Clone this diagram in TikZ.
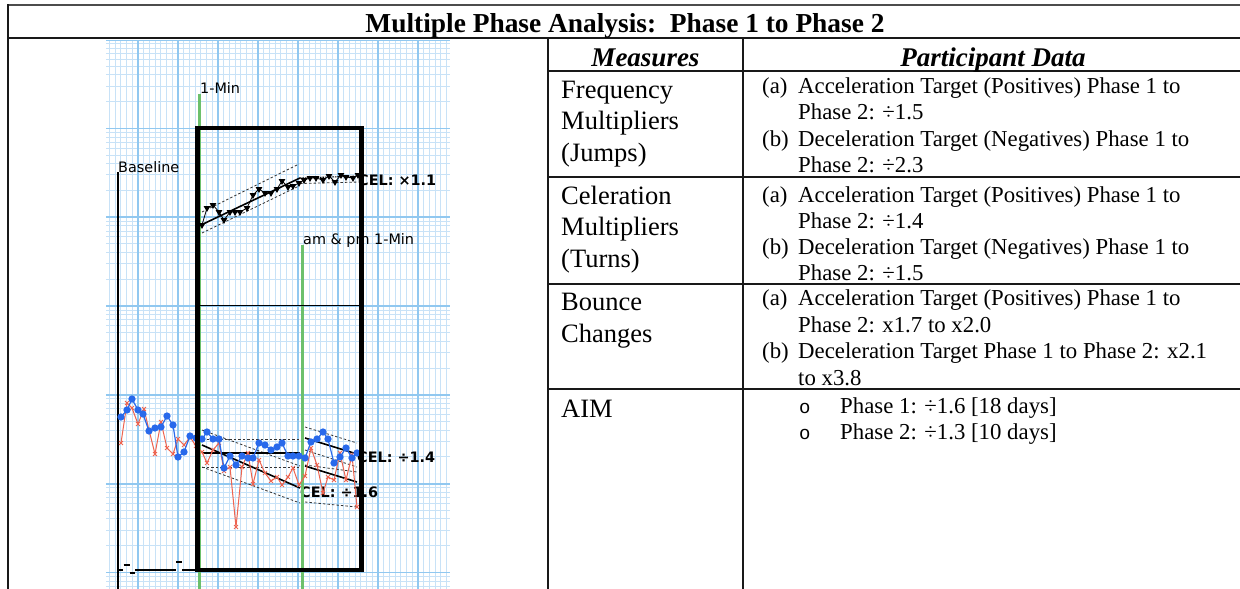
\documentclass[tikz,border=0pt]{standalone}
\usepackage{fontspec}
\setmainfont{Liberation Serif}
\newfontfamily\chartfont{DejaVu Sans}
\newfontfamily\bulletfont{Liberation Mono}
\usetikzlibrary{plotmarks}
\definecolor{gmaj}{RGB}{145,200,240}
\definecolor{gmin}{RGB}{200,226,247}
\definecolor{gline}{RGB}{108,192,108}
\definecolor{bdot}{RGB}{40,105,235}
\definecolor{rx}{RGB}{238,100,80}
\begin{document}
\begin{tikzpicture}[x=1pt,y=-1pt,
  tbl/.style={line width=1.1pt, black!90},
  meas/.style={anchor=base west, inner sep=0pt, font=\fontsize{26.5}{30}\selectfont},
  dat/.style={anchor=base west, inner sep=0pt, font=\fontsize{22.8}{26}\selectfont},
  hdr/.style={anchor=base, inner sep=0pt, font=\fontsize{27}{30}\selectfont\bfseries\itshape},
  clab/.style={anchor=base west, inner sep=0pt, font=\chartfont\fontsize{14.4}{16}\selectfont},
  cel/.style={anchor=base west, inner sep=0pt, font=\chartfont\bfseries\fontsize{14.4}{16}\selectfont},
  bul/.style={anchor=base west, inner sep=0pt, font=\bulletfont\fontsize{19}{22}\selectfont},
  gl/.style={gline, line width=3pt},
  celline/.style={black, line width=1.6pt},
  env/.style={black!80, line width=0.8pt, dash pattern=on 2.5pt off 2pt},
]
\useasboundingbox (0,0) rectangle (1240,589);
\fill[white] (0,0) rectangle (1240,589);

% ---------------- grid ----------------
\begin{scope}
\clip (106,40) rectangle (450,589);
\foreach \j in {0,...,62} {
  \pgfmathsetmacro\xx{98+40*\j/7}
  \draw[gmin, line width=0.9pt] (\xx,40) -- (\xx,589);
}
\foreach \k in {0,...,7} {
  \foreach \m in {2,...,9} {
    \pgfmathsetmacro\yy{39.6+88.8*\k-88.8*log10(\m)}
    \draw[gmin, line width=0.9pt] (106,\yy) -- (450,\yy);
  }
}
\foreach \j in {0,...,8} {
  \pgfmathsetmacro\xx{98+40*\j}
  \draw[gmaj, line width=1.7pt] (\xx,40) -- (\xx,589);
}
\foreach \k in {0,...,6} {
  \pgfmathsetmacro\yy{39.6+88.8*\k}
  \draw[gmaj, line width=1.8pt] (106,\yy) -- (450,\yy);
}
\end{scope}

% ---------------- chart labels ----------------
\node[clab] (lmin) at (200,93) {1-Min};
\node[clab] (lbase) at (118,172) {Baseline};
\node[clab] (lampm) at (303,244) {am \& pm 1-Min};
\node[cel] (cel1) at (358,185) {CEL: ×1.1};
\node[cel] (cel2) at (357,462) {CEL: ÷1.4};
\node[cel] (cel3) at (300,497) {CEL: ÷1.6};

% phase lines
\coordinate (g1t) at (199,94);
\coordinate (g1b) at (199,589);
\coordinate (g2t) at (302.3,245);
\coordinate (g2b) at (302.3,589);
\draw[gl] (g1t) -- (g1b);
\draw[gl] (g2t) -- (g2b);
\coordinate (bt) at (118,172);
\coordinate (bb) at (118,589);
\draw[black, line width=2.6pt] (bt) -- (bb);

% horizontal line in box
\draw[black, line width=1.1pt] (198,305.5) -- (362,305.5);

% ---------------- upper celeration lines ----------------
\draw[celline] (201,225) -- (300,178);
\draw[env] (202,212) -- (299,164);
\draw[env] (202,233) -- (299,186);
\draw[black, line width=1.1pt, dash pattern=on 1.5pt off 1pt] (300,178) -- (360,176);
\draw[env] (300,183.5) -- (360,182);

% triangles
\draw[black, line width=0.8pt, mark=triangle*, mark size=3.1pt, mark options={rotate=180, fill=black}]
  plot coordinates {(202,225) (207,208) (213,205) (219,212) (224,220) (230,212) (235,212) (240,212) (247,208) (253,195) (259,189) (265,193) (271,193) (277,189) (282,181) (288,187) (293,186) (299,183) (304,180) (310,178) (316,178) (323,180) (329,176) (335,182) (341,175) (346,177) (353,178) (358,175)};

% ---------------- lower celeration lines ----------------
\draw[env] (202,439) -- (300,439);
\draw[env] (202,467) -- (300,467);
\draw[env] (202,430) -- (300,466);
\draw[env] (202,467) -- (300,503);
\draw[celline] (202,453) -- (300,453);
\draw[celline] (202,445) -- (300,488);
\draw[env] (305,427) -- (357,443);
\draw[env] (305,450) -- (357,467);
\draw[env] (305,465) -- (357,472);
\draw[env] (305,502) -- (357,507);
\draw[celline] (305,438) -- (357,454);
\draw[celline] (305,466) -- (357,482);

% red x data
\draw[rx, line width=1pt, mark=x, mark size=2.8pt, mark options={rx, line width=1pt}]
  plot coordinates {(121,443) (127,403) (132,408) (138,424) (144,409) (149,430) (155,454) (161,422) (167,448) (173,454) (178,439) (184,445) (190,437) (196,446) (202,452) (207,463) (213,450) (219,443) (224,471) (230,467) (236,527) (242,467) (248,453) (253,484) (259,460) (265,473) (271,481) (277,477) (282,485) (288,477) (293,468) (299,485) (305,476) (311,448) (317,465) (323,493) (328,477) (334,480) (340,453) (346,480) (352,455) (357,507)};

% blue dots
\draw[bdot, line width=1.2pt, mark=*, mark size=3pt, mark options={bdot}]
  plot coordinates {(121,417) (127,410) (132,399) (138,410) (143,414) (149,431) (155,428) (161,427) (167,416) (173,425) (178,457) (184,452) (190,436) (196,438) (202,439) (207,432) (213,439) (219,439) (224,468) (230,456) (236,465) (242,456) (248,458) (253,458) (259,443) (265,445) (271,450) (277,447) (282,443) (288,456) (293,456) (299,456) (305,458) (311,442) (317,439) (323,432) (328,439) (334,463) (340,457) (346,448) (352,458) (357,453)};

% record floor dashes
\draw[black, line width=1.6pt] (118,570) -- (123,570);
\draw[black, line width=1.6pt] (123.5,565) -- (129.5,565);
\draw[black, line width=1.6pt] (129.5,573) -- (135,573);
\draw[black, line width=1.6pt] (135,570) -- (176,570);
\draw[black, line width=1.6pt] (176,562) -- (182,562);
\draw[black, line width=1.6pt] (182,570) -- (196,570);

% big box
\draw[black, line width=4.6pt] (197.5,128) rectangle (361.7,570);

% ---------------- table frame ----------------
\draw[black!70, line width=1.4pt] (8,5) -- (1240,5);
\draw[tbl] (8,4.3) -- (8,589);
\draw[tbl] (8,38) -- (1240,38);
\draw[tbl] (548,38) -- (548,589);
\draw[tbl] (743,38) -- (743,589);
\draw[tbl] (548,71) -- (1240,71);
\draw[tbl] (548,177) -- (1240,177);
\draw[tbl] (548,284) -- (1240,284);
\draw[tbl] (548,389) -- (1240,389);

% title
\node[anchor=base, inner sep=0pt, font=\fontsize{27.4}{30}\selectfont\bfseries] (title) at (625,32) {Multiple Phase Analysis:\ \ Phase 1 to Phase 2};

% headers
\node[hdr] (hm) at (645.5,66) {Measures};
\node[hdr] (hp) at (993,66) {Participant Data};

% measures
\node[meas] (m1a) at (561,98) {Frequency};
\node[meas] (m1b) at (561,129) {Multipliers};
\node[meas] (m1c) at (561,161) {(Jumps)};
\node[meas] (m2a) at (561,204) {Celeration};
\node[meas] (m2b) at (561,235) {Multipliers};
\node[meas] (m2c) at (561,267) {(Turns)};
\node[meas] (m3a) at (561,310) {Bounce};
\node[meas] (m3b) at (561,342) {Changes};
\node[meas] (m4a) at (561,417) {AIM};

% data row 1
\node[dat] (d1a) at (762,93.5) {(a)};
\node[dat] (d1at) at (798,93.5) {Acceleration Target (Positives) Phase 1 to};
\node[dat] (d1a2) at (798,119.5) {Phase 2: ÷1.5};
\node[dat] (d1b) at (762,146) {(b)};
\node[dat] (d1bt) at (798,146) {Deceleration Target (Negatives) Phase 1 to};
\node[dat] (d1b2) at (798,172.5) {Phase 2: ÷2.3};
% data row 2
\node[dat] (d2a) at (762,202) {(a)};
\node[dat] (d2at) at (798,202) {Acceleration Target (Positives) Phase 1 to};
\node[dat] (d2a2) at (798,228) {Phase 2: ÷1.4};
\node[dat] (d2b) at (762,254) {(b)};
\node[dat] (d2bt) at (798,254) {Deceleration Target (Negatives) Phase 1 to};
\node[dat] (d2b2) at (798,280) {Phase 2: ÷1.5};
% data row 3
\node[dat] (d3a) at (762,305.5) {(a)};
\node[dat] (d3at) at (798,305.5) {Acceleration Target (Positives) Phase 1 to};
\node[dat] (d3a2) at (798,332) {Phase 2: x1.7 to x2.0};
\node[dat] (d3b) at (762,358.5) {(b)};
\node[dat] (d3bt) at (798,358.5) {Deceleration Target Phase 1 to Phase 2: x2.1};
\node[dat] (d3b2) at (798,385) {to x3.8};
% data row 4
\node[bul] (o1) at (799,413) {o};
\node[dat] (d4a) at (840,413) {Phase 1: ÷1.6 [18 days]};
\node[bul] (o2) at (799,439) {o};
\node[dat] (d4b) at (840,439) {Phase 2: ÷1.3 [10 days]};
\end{tikzpicture}
\end{document}
